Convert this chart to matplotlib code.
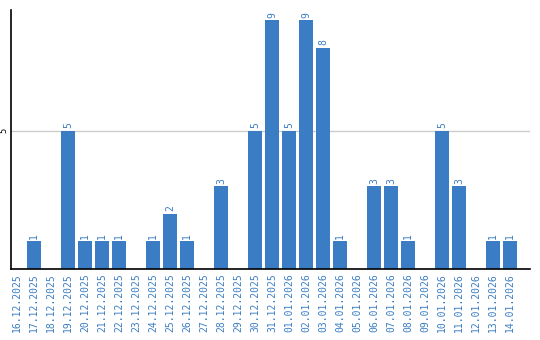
import matplotlib
matplotlib.use("Agg")
import matplotlib.pyplot as plt

dates = [
    "16.12.2025", "17.12.2025", "18.12.2025", "19.12.2025", "20.12.2025",
    "21.12.2025", "22.12.2025", "23.12.2025", "24.12.2025", "25.12.2025",
    "26.12.2025", "27.12.2025", "28.12.2025", "29.12.2025", "30.12.2025",
    "31.12.2025", "01.01.2026", "02.01.2026", "03.01.2026", "04.01.2026",
    "05.01.2026", "06.01.2026", "07.01.2026", "08.01.2026", "09.01.2026",
    "10.01.2026", "11.01.2026", "12.01.2026", "13.01.2026", "14.01.2026",
]
counts = [0, 1, 0, 5, 1, 1, 1, 0, 1, 2, 1, 0, 3, 0, 5,
          9, 5, 9, 8, 1, 0, 3, 3, 1, 0, 5, 3, 0, 1, 1]

bar_color = "#3b7dc4"
label_color = "#3b7dc4"

fig = plt.figure(figsize=(5.4, 3.4), dpi=100)
ax = fig.add_axes([11 / 540, 71 / 340, 519 / 540, 259 / 340])

x = list(range(len(dates)))
bars = ax.bar(x, counts, width=0.82, color=bar_color, zorder=2)

for xi, v in zip(x, counts):
    if v > 0:
        ax.text(xi, v + 0.08, str(v), rotation=90, ha="center", va="bottom",
                color=label_color, fontsize=7, family="DejaVu Sans Mono")

ax.set_xlim(-0.35, len(dates) + 0.18)
ax.set_ylim(0, 9.36)
ax.set_xticks(x)
ax.set_xticklabels(dates, rotation=90, color=label_color, fontsize=7,
                   family="DejaVu Sans Mono")
ax.set_yticks([5])
ax.set_yticklabels(["5"], rotation=90, fontsize=6, va="center")
ax.tick_params(length=0, pad=3)
ax.tick_params(axis="y", pad=2)
ax.yaxis.grid(True, color="#cccccc", linewidth=1, zorder=0)

ax.spines["top"].set_visible(False)
ax.spines["right"].set_visible(False)
ax.spines["left"].set_linewidth(1.2)
ax.spines["bottom"].set_linewidth(1.2)

fig.savefig("out.png", dpi=100)
